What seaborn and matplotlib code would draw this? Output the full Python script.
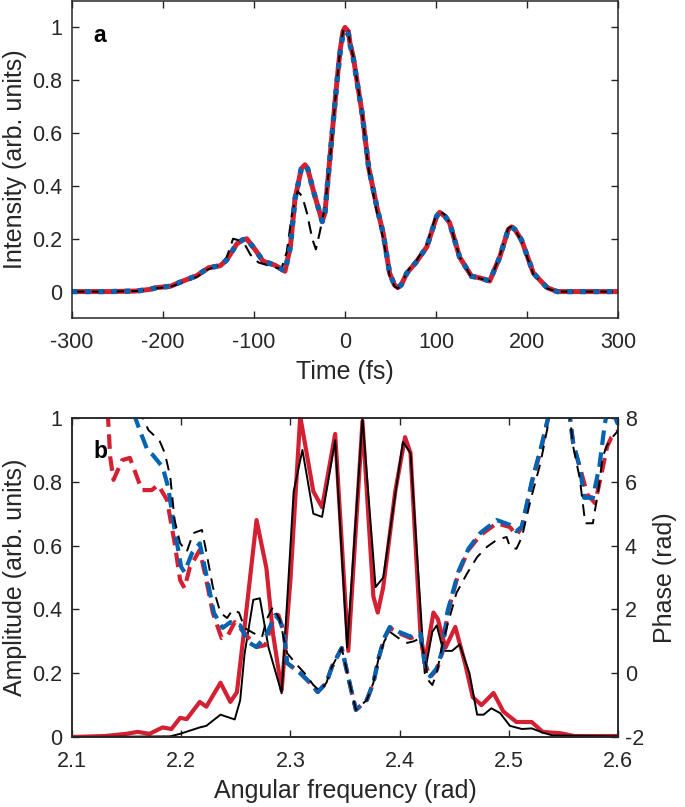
import matplotlib
matplotlib.use("Agg")
import matplotlib.pyplot as plt
import seaborn as sns
import pandas as pd

# ---------------- panel a: temporal intensity ----------------
time_red = [-300, -260, -230, -215, -207, -192, -178, -163, -150, -137, -130, -119, -113, -108,
            -99, -90, -77, -66, -60, -55, -48, -44, -41, -35, -25, -22, -16.5, -9, -5.5, -2.2,
            0, 3.7, 5.5, 9, 19, 26, 35, 42, 49, 54.4, 58, 61.7, 68, 79, 90, 100.7, 104, 110,
            115, 126, 139, 148, 159, 170, 179.4, 183, 186.7, 194, 207, 222, 233, 260, 300]
int_red = [0, 0, 0.002, 0.008, 0.015, 0.02, 0.04, 0.06, 0.09, 0.098, 0.12, 0.18, 0.195, 0.2,
           0.16, 0.115, 0.10, 0.077, 0.17, 0.35, 0.465, 0.48, 0.465, 0.385, 0.265, 0.30, 0.51,
           0.79, 0.91, 0.985, 1.0, 0.985, 0.94, 0.89, 0.67, 0.47, 0.32, 0.22, 0.07, 0.025, 0.015,
           0.025, 0.07, 0.115, 0.17, 0.285, 0.30, 0.285, 0.26, 0.13, 0.058, 0.052, 0.04, 0.13,
           0.235, 0.245, 0.235, 0.195, 0.07, 0.015, 0, 0, 0]
time_blue = list(time_red)
int_blue = [0, 0, 0.002, 0.008, 0.015, 0.02, 0.04, 0.06, 0.09, 0.098, 0.12, 0.18, 0.195, 0.2,
            0.16, 0.115, 0.10, 0.077, 0.17, 0.35, 0.465, 0.48, 0.465, 0.385, 0.265, 0.30, 0.51,
            0.79, 0.9, 0.975, 0.985, 0.975, 0.935, 0.885, 0.67, 0.47, 0.32, 0.22, 0.07, 0.025, 0.015,
            0.025, 0.07, 0.115, 0.17, 0.285, 0.30, 0.285, 0.26, 0.13, 0.058, 0.052, 0.04, 0.13,
            0.235, 0.245, 0.235, 0.195, 0.07, 0.015, 0, 0, 0]
time_black = [-300, -260, -230, -215, -207, -192, -178, -163, -150, -137, -130, -123, -112,
              -104, -95, -85, -75, -70, -64, -58, -52, -47, -42, -36, -32, -28, -22, -16.5, -9,
              -5.5, -2.2, 0, 3.7, 5.5, 9, 19, 26, 35, 42, 49, 54.4, 58, 61.7, 68, 79, 90, 100.7,
              104, 110, 115, 126, 139, 148, 159, 170, 179.4, 183, 186.7, 194, 207, 222, 233, 260, 300]
int_black = [0, 0, 0.002, 0.008, 0.013, 0.018, 0.035, 0.055, 0.085, 0.1, 0.13, 0.2, 0.19,
             0.14, 0.11, 0.1, 0.09, 0.085, 0.15, 0.30, 0.38, 0.36, 0.30, 0.20, 0.16, 0.22, 0.32,
             0.5, 0.79, 0.91, 0.985, 1.0, 0.985, 0.94, 0.89, 0.67, 0.46, 0.30, 0.20, 0.06, 0.02,
             0.012, 0.025, 0.075, 0.12, 0.18, 0.295, 0.305, 0.29, 0.26, 0.13, 0.055, 0.05, 0.04,
             0.135, 0.24, 0.245, 0.235, 0.19, 0.065, 0.012, 0, 0, 0]

# ---------------- panel b: spectral amplitude ----------------
freq_amp_red = [2.100, 2.130, 2.150, 2.160, 2.171, 2.183, 2.191, 2.199, 2.205, 2.217, 2.223, 2.236,
                2.245, 2.251, 2.258, 2.269, 2.278, 2.284, 2.292, 2.300, 2.309, 2.321, 2.329, 2.341,
                2.353, 2.366, 2.376, 2.380, 2.385, 2.396, 2.405, 2.410, 2.419, 2.423, 2.431, 2.435,
                2.442, 2.451, 2.460, 2.467, 2.475, 2.486, 2.495, 2.507, 2.521, 2.531, 2.547, 2.560, 2.600]
amp_red = [0.0, 0.003, 0.010, 0.016, 0.010, 0.030, 0.025, 0.060, 0.056, 0.110, 0.095, 0.170,
           0.110, 0.140, 0.345, 0.680, 0.530, 0.325, 0.147, 0.490, 1.005, 0.77, 0.72, 0.95,
           0.27, 0.99, 0.44, 0.39, 0.47, 0.77, 0.94, 0.89, 0.33, 0.23, 0.39, 0.37,
           0.28, 0.345, 0.23, 0.125, 0.10, 0.138, 0.08, 0.047, 0.047, 0.016, 0.012, 0.003, 0.003]
freq_amp_black = [2.100, 2.190, 2.199, 2.208, 2.217, 2.223, 2.236, 2.249, 2.254, 2.258, 2.266, 2.272,
                  2.280, 2.292, 2.303, 2.311, 2.321, 2.329, 2.341, 2.352, 2.366, 2.378, 2.385, 2.403,
                  2.410, 2.423, 2.430, 2.434, 2.440, 2.448, 2.455, 2.464, 2.471, 2.477, 2.484, 2.492,
                  2.501, 2.512, 2.521, 2.531, 2.540, 2.600]
amp_black = [0.0, 0.002, 0.010, 0.020, 0.030, 0.035, 0.070, 0.055, 0.115, 0.26, 0.43, 0.435,
             0.28, 0.137, 0.77, 0.90, 0.70, 0.69, 0.93, 0.28, 1.0, 0.47, 0.50, 0.925,
             0.89, 0.20, 0.33, 0.35, 0.27, 0.27, 0.29, 0.20, 0.07, 0.07, 0.09, 0.075,
             0.035, 0.025, 0.027, 0.014, 0.005, 0.002]

# ---------------- panel b: spectral phase ----------------
freq_ph_red = [2.120, 2.133, 2.135, 2.138, 2.146, 2.153, 2.164, 2.173, 2.179, 2.187, 2.194, 2.199,
               2.203, 2.208, 2.217, 2.223, 2.229, 2.237, 2.243, 2.249, 2.258, 2.269, 2.277, 2.284,
               2.289, 2.294, 2.297, 2.309, 2.318, 2.325, 2.333, 2.338, 2.347, 2.355, 2.360, 2.370,
               2.376, 2.381, 2.386, 2.391, 2.399, 2.410, 2.419, 2.423, 2.428, 2.434, 2.439, 2.444,
               2.454, 2.463, 2.474, 2.489, 2.501, 2.507, 2.512, 2.521, 2.530, 2.536, 2.545, 2.556,
               2.559, 2.565, 2.572, 2.579, 2.585, 2.590, 2.594, 2.600]
ph_red = [9.5, 8.0, 6.78, 6.06, 6.68, 6.75, 5.74, 5.74, 5.9, 5.43, 4.08, 2.92,
          2.67, 3.33, 3.86, 2.92, 1.89, 1.10, 1.2, 1.6, 1.26, 0.82, 0.88, 1.67,
          1.82, 1.3, 0.32, 0.0, -0.3, -0.59, -0.3, 0.2, 0.79, -0.43, -1.15, -0.84,
          -0.3, 0.5, 1.1, 1.42, 1.26, 1.1, 1.2, 0.32, -0.12, 0.1, 0.63, 1.89,
          3.14, 3.86, 4.33, 4.7, 4.58, 4.33, 4.58, 5.96, 7.09, 8.0, 9.0, 8.0,
          7.2, 6.46, 5.6, 5.33, 6.27, 7.1, 7.4, 7.6]
freq_ph_blue = [2.150, 2.158, 2.162, 2.169, 2.174, 2.183, 2.188, 2.194, 2.200, 2.203, 2.210, 2.217,
                2.224, 2.230, 2.238, 2.245, 2.254, 2.261, 2.269, 2.278, 2.286, 2.290, 2.294, 2.297,
                2.309, 2.318, 2.325, 2.333, 2.338, 2.347, 2.355, 2.360, 2.370, 2.376, 2.381, 2.386,
                2.391, 2.399, 2.410, 2.419, 2.423, 2.428, 2.434, 2.439, 2.444, 2.454, 2.463, 2.474,
                2.489, 2.501, 2.507, 2.512, 2.521, 2.530, 2.536, 2.545, 2.556, 2.559, 2.565, 2.569,
                2.577, 2.583, 2.588, 2.591, 2.595, 2.600]
ph_blue = [9.5, 8.0, 7.62, 7.0, 6.84, 6.46, 5.84, 4.49, 3.33, 3.17, 3.77, 4.07,
           2.92, 1.89, 1.42, 1.6, 1.5, 0.98, 0.82, 1.2, 1.82, 1.67, 1.3, 0.32,
           0.0, -0.3, -0.59, -0.3, 0.2, 0.79, -0.43, -1.15, -0.84, -0.3, 0.5, 1.1,
           1.45, 1.3, 1.15, 1.25, 0.32, -0.1, 0.15, 0.7, 1.95, 3.2, 3.9, 4.4,
           4.8, 4.65, 4.45, 4.6, 6.0, 7.15, 8.0, 9.0, 8.0, 7.2, 6.46, 5.5,
           5.5, 6.5, 7.84, 8.3, 8.2, 7.8]
freq_ph_black = [2.155, 2.165, 2.170, 2.180, 2.185, 2.190, 2.194, 2.199, 2.205, 2.211, 2.219, 2.223,
                 2.229, 2.236, 2.242, 2.247, 2.253, 2.258, 2.266, 2.274, 2.278, 2.284, 2.290, 2.297,
                 2.306, 2.313, 2.321, 2.327, 2.333, 2.338, 2.347, 2.355, 2.360, 2.370, 2.376, 2.381,
                 2.386, 2.391, 2.399, 2.407, 2.413, 2.419, 2.423, 2.426, 2.430, 2.434, 2.440, 2.447,
                 2.452, 2.462, 2.471, 2.480, 2.489, 2.498, 2.501, 2.507, 2.512, 2.520, 2.529, 2.535,
                 2.537, 2.548, 2.556, 2.559, 2.565, 2.570, 2.577, 2.582, 2.586, 2.590, 2.595, 2.600]
ph_black = [9.5, 8.0, 7.62, 7.3, 6.9, 6.15, 4.8, 4.08, 3.8, 4.39, 4.49, 3.8,
            2.7, 1.89, 1.73, 1.98, 1.9, 1.42, 1.26, 1.13, 1.67, 2.08, 1.7, 0.63,
            0.26, 0.0, -0.37, -0.56, -0.3, 0.2, 0.79, -0.43, -1.15, -0.84, -0.3, 0.5,
            1.0, 1.3, 1.1, 0.95, 1.0, 1.1, 0.5, -0.21, -0.37, 0.0, 1.04, 1.89,
            2.51, 3.14, 3.64, 3.96, 4.18, 4.27, 3.96, 3.9, 4.27, 5.43, 6.59, 7.62,
            8.0, 9.0, 8.0, 7.1, 6.1, 4.7, 4.7, 5.74, 6.78, 7.15, 7.4, 7.6]

time_ticks = [-300, -200, -100, 0, 100, 200, 300]
int_ticks = [0, 0.2, 0.4, 0.6, 0.8, 1]
freq_ticks = [2.1, 2.2, 2.3, 2.4, 2.5, 2.6]
amp_ticks = [0, 0.2, 0.4, 0.6, 0.8, 1]
phase_ticks = [-2, 0, 2, 4, 6, 8]

RED = "#D42033"
BLUE = "#0064B2"
BLACK = "#000000"
AX = "#262626"

sns.set_theme(style="white")
plt.rcParams["font.family"] = ["Liberation Sans", "DejaVu Sans"]
plt.rcParams["axes.unicode_minus"] = False

fig = plt.figure(figsize=(6.85, 8.07), dpi=100)
ax1 = fig.add_axes([72 / 685, 1 - 318 / 807, 546 / 685, 317 / 807])
ax2 = fig.add_axes([72 / 685, 1 - 737 / 807, 546 / 685, 319 / 807])
ax3 = ax2.twinx()


def line(ax, x, y, **kw):
    df = pd.DataFrame({"x": x, "y": y})
    sns.lineplot(data=df, x="x", y="y", ax=ax, sort=False, estimator=None, legend=False, **kw)


# panel a
line(ax1, time_red, int_red, color=RED, linewidth=3.6, solid_capstyle="butt")
line(ax1, time_black, int_black, color=BLACK, linewidth=1.5)
ax1.lines[-1].set_dashes((6, 3.5))
line(ax1, time_blue, int_blue, color=BLUE, linewidth=3.8)
ax1.lines[-1].set_dashes((1, 1.5))
ax1.lines[-1].set_dash_capstyle("butt")

# panel b amplitude
line(ax2, freq_amp_red, amp_red, color=RED, linewidth=3.0)
line(ax2, freq_amp_black, amp_black, color=BLACK, linewidth=1.4)

# panel b phase
line(ax3, freq_ph_red, ph_red, color=RED, linewidth=3.0)
ax3.lines[-1].set_dashes((3.5, 1.8))
line(ax3, freq_ph_blue, ph_blue, color=BLUE, linewidth=3.0)
ax3.lines[-1].set_dashes((3.5, 1.8))
line(ax3, freq_ph_black, ph_black, color=BLACK, linewidth=1.4)
ax3.lines[-1].set_dashes((6, 4))

TICK_FS = 15.5
LABEL_FS = 18

ax1.set_xlim(-300, 300)
ax1.set_ylim(-0.1, 1.1)
ax1.set_xticks(time_ticks)
ax1.set_xticklabels([f"{v:g}" for v in time_ticks])
ax1.set_yticks(int_ticks)
ax1.set_yticklabels([f"{v:g}" for v in int_ticks])
ax1.set_xlabel("Time (fs)", fontsize=LABEL_FS, color=AX, labelpad=5)
ax1.set_ylabel("Intensity (arb. units)", fontsize=LABEL_FS, color=AX, labelpad=4)
ax1.tick_params(direction="in", length=5, width=1, colors=AX, labelsize=TICK_FS,
                top=True, right=True, left=True, bottom=True, pad=7)
ax1.tick_params(axis="x", pad=10)
ax1.text((93 - 72) / 546, (318 - 42) / 317, "a", transform=ax1.transAxes, fontsize=16.5,
         fontweight="bold", color="black", ha="left", va="baseline")

ax2.set_xlim(2.1, 2.6)
ax2.set_ylim(0, 1)
ax2.set_xticks(freq_ticks)
ax2.set_xticklabels([f"{v:g}" for v in freq_ticks])
ax2.set_yticks(amp_ticks)
ax2.set_yticklabels([f"{v:g}" for v in amp_ticks])
ax2.set_xlabel("Angular frequency (rad)", fontsize=LABEL_FS, color=AX, labelpad=5)
ax2.set_ylabel("Amplitude (arb. units)", fontsize=LABEL_FS, color=AX, labelpad=4)
ax2.tick_params(direction="in", length=5, width=1, colors=AX, labelsize=TICK_FS,
                top=True, bottom=True, left=True, right=False, pad=7)
ax2.tick_params(axis="x", pad=10)
ax2.text((93 - 72) / 546, (737 - 458) / 319, "b", transform=ax2.transAxes, fontsize=16.5,
         fontweight="bold", color="black", ha="left", va="baseline")

ax3.set_ylim(-2, 8)
ax3.set_yticks(phase_ticks)
ax3.set_yticklabels([f"{v:g}" for v in phase_ticks])
ax3.set_ylabel("Phase (rad)", fontsize=LABEL_FS, color=AX, labelpad=6)
ax3.tick_params(direction="in", length=5, width=1, colors=AX, labelsize=TICK_FS, pad=5)

for ax in (ax1, ax2, ax3):
    for s in ax.spines.values():
        s.set_color(AX)
        s.set_linewidth(1.1)
    ax.set_facecolor("none")

fig.savefig("out.png", dpi=100)
